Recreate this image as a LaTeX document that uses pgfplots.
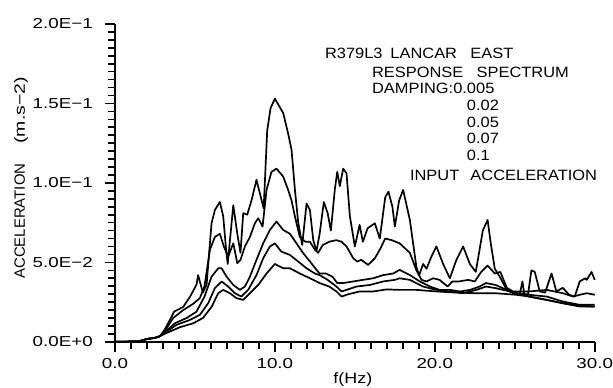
\documentclass[border=0pt]{standalone}
\usepackage{fontspec}
\setmainfont{Liberation Sans}
\usepackage{graphicx}
\usepackage{pgfplots}
\pgfplotsset{compat=1.18}
\newcommand{\tl}[1]{\scalebox{1.3}[1]{#1}}
\newcommand{\st}[1]{\scalebox{1.1}[1]{#1}}
\begin{document}
\begin{tikzpicture}
\path (-115bp,-46bp) rectangle (498bp,342bp);
\begin{axis}[
  at={(0bp,0bp)}, anchor=south west,
  scale only axis, width=480bp, height=318bp,
  xmin=0, xmax=30, ymin=0, ymax=0.2,
  axis lines=left,
  axis line style={-, line width=1.6pt},
  tick align=outside,
  major tick length=10bp, minor tick length=7bp,
  xtick={0,10,20,30}, xticklabels={\tl{0.0},\tl{10.0},\tl{20.0},\tl{30.0}},
  ytick={0,0.05,0.1,0.15,0.2},
  yticklabels={\tl{0.0E+0},\tl{5.0E−2},\tl{1.0E−1},\tl{1.5E−1},\tl{2.0E−1}},
  scaled y ticks=false, scaled x ticks=false,
  minor x tick num=9, minor y tick num=9,
  tick style={draw=black, line width=1.6pt},
  tick label style={font=\fontsize{14.5}{16}\selectfont},
  yticklabel style={anchor=east, inner sep=0pt, xshift=-12bp},
  xticklabel style={anchor=north, inner sep=0pt, yshift=-6bp},
  clip=false,
  curve/.style={black, line width=1.7pt, line join=round, mark=none},
]
% damping 0.005
\addplot[curve] coordinates {
(0,0)(1.5,0.0003)(2.0,0.0018)(2.5,0.0025)(2.8,0.0035)(3.1,0.0075)(3.55,0.016)(3.7,0.019)
(4.27,0.022)(4.7,0.0285)(5.1,0.036)(5.2,0.042)(5.5,0.031)(5.73,0.036)(6.04,0.0746)(6.25,0.083)
(6.56,0.088)(6.77,0.079)(6.95,0.058)(7.05,0.049)(7.4,0.086)(7.65,0.068)(7.85,0.056)(8.02,0.081)
(8.27,0.080)(8.54,0.089)(8.85,0.102)(9.06,0.0935)(9.3,0.084)(9.52,0.133)(9.73,0.147)(10.0,0.153)
(10.52,0.144)(10.83,0.131)(11.04,0.121)(11.25,0.096)(11.46,0.075)(11.71,0.061)(11.98,0.087)
(12.19,0.083)(12.4,0.064)(12.6,0.057)(12.8,0.068)(13.06,0.088)(13.3,0.081)(13.5,0.070)
(13.75,0.096)(13.9,0.107)(14.06,0.098)(14.27,0.109)(14.48,0.106)(14.69,0.079)(15.0,0.060)
(15.3,0.0736)(15.5,0.063)(15.8,0.0715)(16.25,0.0746)(16.56,0.065)(16.9,0.091)(17.1,0.0945)
(17.35,0.085)(17.5,0.0725)(17.77,0.089)(18.02,0.0956)(18.44,0.0767)(18.85,0.047)(19.02,0.042)
(19.27,0.049)(19.48,0.046)(19.79,0.0537)(20.1,0.060)(20.52,0.049)(20.94,0.040)(21.35,0.0516)
(21.77,0.060)(22.19,0.049)(22.56,0.044)(22.8,0.058)(23.0,0.070)(23.3,0.0767)(23.5,0.062)
(23.75,0.046)(24.06,0.041)(24.5,0.0327)(24.9,0.0306)(25.3,0.0296)(25.48,0.038)(25.6,0.0296)
(25.83,0.030)(26.04,0.045)(26.25,0.044)(26.56,0.0317)(26.9,0.031)(27.3,0.043)(27.6,0.0317)
(28.0,0.034)(28.4,0.0296)(28.75,0.0285)(29.06,0.038)(29.4,0.040)(29.5,0.039)(29.8,0.044)(30.0,0.039)
};
% damping 0.02
\addplot[curve] coordinates {
(0,0)(1.5,0.0003)(2.0,0.0018)(2.5,0.0025)(2.8,0.0035)(3.1,0.0065)(3.64,0.015)(4.27,0.020)
(4.9,0.024)(5.31,0.0275)(5.6,0.035)(5.94,0.058)(6.25,0.066)(6.56,0.068)(6.81,0.060)(7.08,0.0537)
(7.4,0.062)(7.65,0.0495)(7.85,0.0516)(8.125,0.060)(8.44,0.066)(8.75,0.0746)(8.96,0.0778)
(9.23,0.0725)(9.48,0.0956)(9.79,0.107)(10.1,0.109)(10.52,0.104)(10.83,0.0956)(11.04,0.089)
(11.25,0.079)(11.56,0.066)(11.9,0.063)(12.19,0.063)(12.5,0.058)(12.7,0.056)(13.0,0.061)
(13.4,0.063)(13.85,0.064)(14.17,0.063)(14.48,0.060)(14.9,0.0526)(15.15,0.0505)(15.4,0.0516)
(15.83,0.0484)(16.25,0.0526)(16.56,0.058)(16.9,0.065)(17.3,0.064)(17.8,0.062)(18.44,0.056)
(18.85,0.045)(19.17,0.039)(19.48,0.038)(19.9,0.040)(20.3,0.039)(20.8,0.0348)(21.1,0.038)
(21.5,0.038)(22.1,0.039)(22.5,0.038)(22.9,0.044)(23.3,0.048)(23.75,0.043)(24.1,0.044)
(24.5,0.034)(24.9,0.0317)(25.9,0.0317)(27.0,0.0327)(28.0,0.0306)(28.65,0.0285)(29.06,0.0296)
(29.5,0.0306)(30.0,0.0296)
};
% damping 0.05
\addplot[curve] coordinates {
(0,0)(1.5,0.0003)(2.0,0.0018)(2.5,0.0025)(2.8,0.0035)(3.1,0.006)(3.75,0.0117)(4.48,0.015)
(5.1,0.019)(5.6,0.0285)(6.04,0.041)(6.46,0.0463)(6.67,0.0463)(6.98,0.041)(7.4,0.0358)
(7.81,0.0327)(8.125,0.0348)(8.44,0.041)(8.85,0.0516)(9.27,0.062)(9.69,0.0704)(10.1,0.0757)
(10.52,0.0704)(10.94,0.068)(11.35,0.062)(11.77,0.0558)(12.2,0.0505)(12.6,0.0453)(12.8,0.043)
(13.2,0.043)(13.6,0.041)(13.9,0.037)(14.27,0.037)(14.9,0.038)(15.5,0.039)(16.15,0.040)
(16.77,0.042)(17.4,0.043)(17.8,0.0453)(18.44,0.042)(19.06,0.038)(19.7,0.0348)(20.3,0.0327)
(20.94,0.0327)(21.6,0.0317)(22.2,0.0327)(22.8,0.0348)(23.2,0.037)(23.8,0.0358)(24.5,0.0327)
(25.1,0.0306)(25.9,0.0296)(27.0,0.0285)(28.0,0.0254)(29.06,0.0233)(30.0,0.0233)
};
% damping 0.07
\addplot[curve] coordinates {
(0,0)(1.5,0.0003)(2.0,0.0018)(2.5,0.0025)(2.8,0.0035)(3.1,0.0055)(3.85,0.0107)(4.69,0.0138)
(5.31,0.017)(5.83,0.0243)(6.25,0.0338)(6.67,0.038)(7.08,0.0348)(7.5,0.0306)(7.9,0.0285)
(8.33,0.0327)(8.85,0.042)(9.27,0.0526)(9.69,0.060)(10.0,0.062)(10.4,0.0568)(10.94,0.0547)
(11.46,0.0505)(11.98,0.0463)(12.5,0.043)(12.8,0.042)(13.3,0.039)(13.85,0.0348)(14.17,0.0317)
(14.48,0.0327)(15.1,0.0348)(15.94,0.0358)(16.77,0.038)(17.5,0.039)(17.8,0.040)(18.44,0.039)
(19.27,0.0348)(20.1,0.0327)(20.94,0.0317)(21.77,0.0306)(22.6,0.0327)(23.2,0.0348)(23.8,0.0338)
(24.7,0.0317)(25.9,0.0285)(27.0,0.0264)(28.0,0.0243)(29.06,0.0222)(30.0,0.0222)
};
% damping 0.1
\addplot[curve] coordinates {
(0,0)(1.5,0.0003)(2.0,0.0018)(2.5,0.0025)(2.8,0.0035)(3.1,0.005)(4.06,0.0092)(4.9,0.0117)
(5.5,0.015)(6.04,0.022)(6.46,0.0306)(6.77,0.0327)(7.19,0.0306)(7.6,0.0275)(8.02,0.0264)
(8.44,0.0306)(8.96,0.0358)(9.48,0.043)(10.0,0.049)(10.52,0.0463)(10.94,0.0463)(11.56,0.043)
(12.2,0.040)(12.8,0.037)(13.4,0.0348)(13.85,0.0317)(14.17,0.0285)(14.6,0.030)(15.3,0.0317)
(16.15,0.0317)(16.98,0.033)(17.8,0.0327)(18.85,0.0327)(20.1,0.0317)(21.35,0.031)(22.6,0.0306)
(23.8,0.0306)(25.1,0.0296)(25.9,0.0285)(27.0,0.0264)(28.0,0.0243)(29.06,0.0226)(30.0,0.0222)
};
\end{axis}
% tick marks as filled bars
\foreach \i in {0,...,30} {\fill[black] (\i*16bp-0.8bp,0bp) rectangle (\i*16bp+0.8bp,-7bp);}
\foreach \i in {0,10,20,30} {\fill[black] (\i*16bp-0.8bp,0bp) rectangle (\i*16bp+0.8bp,-10bp);}
\foreach \j in {0,...,40} {\fill[black] (0bp,\j*7.95bp-0.8bp) rectangle (-7bp,\j*7.95bp+0.8bp);}
\foreach \j in {0,10,20,30,40} {\fill[black] (0bp,\j*7.95bp-0.8bp) rectangle (-10bp,\j*7.95bp+0.8bp);}
\begin{scope}[every node/.style={font=\fontsize{15}{17}\selectfont, inner sep=0pt}]
\node[anchor=west] at (210bp,289bp) {\st{R379L3\hspace{3bp} LANCAR\hspace{8bp} EAST}};
\node[anchor=west] at (257bp,270bp) {\st{RESPONSE\hspace{8bp} SPECTRUM}};
\node[anchor=west] at (257bp,254bp) {\st{DAMPING:0.005}};
\node[anchor=west] at (352bp,237bp) {\st{0.02}};
\node[anchor=west] at (352bp,220bp) {\st{0.05}};
\node[anchor=west] at (352bp,204bp) {\st{0.07}};
\node[anchor=west] at (352bp,187bp) {\st{0.1}};
\node[anchor=west] at (295bp,167bp) {\st{INPUT\hspace{6bp} ACCELERATION}};
\node at (238bp,-38bp) {\scalebox{1.2}[1]{f(Hz)}};
\node[rotate=90] at (-94bp,164bp) {ACCELERATION\hspace{20bp}\scalebox{1.3}[1]{(m.s−2)}};
\end{scope}
\end{tikzpicture}
\end{document}
